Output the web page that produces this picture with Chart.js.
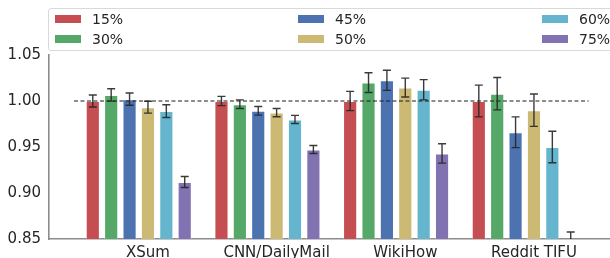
<!DOCTYPE html>
<html>
<head>
<meta charset="utf-8">
<script src="https://cdn.jsdelivr.net/npm/chart.js@4"></script>
<style>
  html, body { margin: 0; padding: 0; background: #fff; overflow: hidden; }
  #wrap { position: relative; width: 610px; height: 258px; }
  #legend {
    position: absolute; left: 48px; top: 8px; width: 620px; height: 41px;
    border: 1px solid #d9d9d9; border-radius: 3px; background: rgba(255,255,255,0.85);
    font-family: "DejaVu Sans"; font-size: 14px; color: #262626;
  }
  .sw { position: absolute; width: 26px; height: 8px; }
  .lb { position: absolute; line-height: 16px; white-space: nowrap; }
</style>
</head>
<body>
<div id="wrap">
  <canvas id="chart" width="610" height="258"></canvas>
  <div id="legend"></div>
</div>
<script>
// categories and tick labels
const categories = ['XSum', 'CNN/DailyMail', 'WikiHow', 'Reddit TIFU'];
const yTicks = [0.85, 0.90, 0.95, 1.00, 1.05];

// series (mean relative score) and error half-widths
const labels = ['15%', '30%', '45%', '50%', '60%', '75%'];
const colors = ['#C44E52', '#55A868', '#4C72B0', '#CCB974', '#64B5CD', '#8172B2'];

const p15 = [1.000, 1.000, 1.000, 1.000];
const p30 = [1.0066, 0.9965, 1.020, 1.008];
const p45 = [1.002, 0.9894, 1.0225, 0.966];
const p50 = [0.9933, 0.9874, 1.0146, 0.990];
const p60 = [0.989, 0.980, 1.0122, 0.950];
const p75 = [0.912, 0.9473, 0.943, 0.8406];

const e15 = [0.0065, 0.0050, 0.0105, 0.0173];
const e30 = [0.0067, 0.0047, 0.0107, 0.0176];
const e45 = [0.0067, 0.0047, 0.0110, 0.0167];
const e50 = [0.0065, 0.0045, 0.0103, 0.0176];
const e60 = [0.0069, 0.0044, 0.0110, 0.0172];
const e75 = [0.0060, 0.0044, 0.0105, 0.0170];

const series = [p15, p30, p45, p50, p60, p75];
const errors = [e15, e30, e45, e50, e60, e75];

// dashed reference line at 1.0 (in category units)
const refX = [-0.575, 3.425];
const refY = 1.0;

const textColor = '#262626';
const spineColor = '#8c8c8c';

// error bars, clipped to the plot area
const errorBars = {
  id: 'errorBars',
  afterDatasetsDraw(chart) {
    const { ctx, chartArea: a, scales: { y } } = chart;
    ctx.save();
    ctx.beginPath();
    ctx.rect(a.left, a.top, a.right - a.left, a.bottom - a.top);
    ctx.clip();
    ctx.strokeStyle = 'rgba(38,38,38,0.9)';
    ctx.lineWidth = 1.4;
    chart.data.datasets.forEach((ds, di) => {
      if (!ds.errors) return;
      chart.getDatasetMeta(di).data.forEach((bar, i) => {
        const v = ds.data[i].y, e = ds.errors[i];
        const t = y.getPixelForValue(v + e), b = y.getPixelForValue(v - e);
        const x = bar.x, c = 4;
        ctx.beginPath();
        ctx.moveTo(x, t); ctx.lineTo(x, b);
        ctx.moveTo(x - c, t); ctx.lineTo(x + c, t);
        ctx.moveTo(x - c, b); ctx.lineTo(x + c, b);
        ctx.stroke();
      });
    });
    ctx.restore();
  }
};

const barSets = series.map((vals, k) => ({
  type: 'bar',
  label: labels[k],
  data: vals.map((v, i) => ({ x: i, y: v })),
  errors: errors[k],
  backgroundColor: colors[k],
  borderColor: 'rgba(255,255,255,0.35)',
  borderWidth: 1,
  order: 1
}));

// empty 7th hue slot (keeps groups offset like the original)
barSets.push({
  type: 'bar', label: '', data: categories.map((_, i) => ({ x: i, y: null })),
  backgroundColor: 'rgba(0,0,0,0)', order: 1
});

const refLine = {
  type: 'line',
  label: 'ref',
  data: refX.map(x => ({ x, y: refY })),
  borderColor: '#1a1a1a',
  borderWidth: 1.2,
  borderDash: [4, 2.5],
  pointRadius: 0,
  order: 0
};

const ctx = document.getElementById('chart').getContext('2d');
new Chart(ctx, {
  type: 'bar',
  data: { datasets: [...barSets, refLine] },
  options: {
    responsive: false,
    animation: false,
    layout: { padding: { top: 55, left: 0, right: 0, bottom: 0 } },
    plugins: { legend: { display: false }, tooltip: { enabled: false } },
    datasets: { bar: { categoryPercentage: 1, barPercentage: 0.77, clip: 0 } },
    scales: {
      x: {
        type: 'linear', min: -0.769, max: 3.591, offset: false,
        grid: { display: false, drawTicks: false },
        border: { display: true, color: spineColor, width: 1.6 },
        afterBuildTicks: s => { s.ticks = categories.map((_, i) => ({ value: i })); },
        afterFit: s => { s.height = 19; },
        ticks: {
          callback: v => categories[v], autoSkip: false, maxRotation: 0, padding: 5,
          color: textColor, font: { family: 'DejaVu Sans', size: 15 }
        }
      },
      y: {
        min: 0.85, max: 1.05,
        grid: { display: false, drawTicks: false },
        border: { display: true, color: spineColor, width: 1.6 },
        afterBuildTicks: s => { s.ticks = yTicks.map(v => ({ value: v })); },
        afterFit: s => { s.width = 49; },
        ticks: {
          callback: v => v.toFixed(2), padding: 8,
          color: textColor, font: { family: 'DejaVu Sans', size: 15 }
        }
      }
    }
  },
  plugins: [errorBars]
});

// legend: 3 columns, filled column by column
const legendEl = document.getElementById('legend');
const colX = [6, 249, 493];
const rowY = [10, 29.5];
labels.forEach((lab, i) => {
  const col = Math.floor(i / 2), row = i % 2;
  const sw = document.createElement('div');
  sw.className = 'sw';
  sw.style.left = colX[col] + 'px';
  sw.style.top = (rowY[row] - 4) + 'px';
  sw.style.background = colors[i];
  const lb = document.createElement('div');
  lb.className = 'lb';
  lb.style.left = (colX[col] + 37) + 'px';
  lb.style.top = (rowY[row] - 8) + 'px';
  lb.textContent = lab;
  legendEl.appendChild(sw);
  legendEl.appendChild(lb);
});
</script>
</body>
</html>
